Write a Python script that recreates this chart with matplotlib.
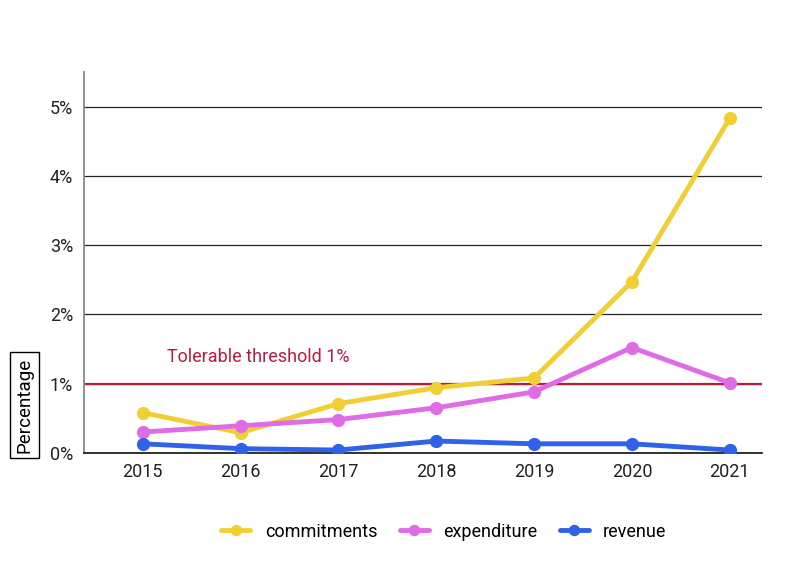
import matplotlib
matplotlib.use("Agg")
import matplotlib.pyplot as plt
from matplotlib.ticker import FuncFormatter

plt.rcParams['font.family'] = ['Roboto', 'DejaVu Sans']

years = ['2015', '2016', '2017', '2018', '2019', '2020', '2021']
commitments = [0.58, 0.29, 0.71, 0.94, 1.08, 2.47, 4.83]
expenditure = [0.30, 0.39, 0.48, 0.65, 0.88, 1.52, 1.01]
revenue = [0.13, 0.06, 0.04, 0.17, 0.13, 0.13, 0.04]
threshold = 1.0
yticks = [0, 1, 2, 3, 4, 5]

fig = plt.figure(figsize=(8, 5.71), dpi=100)
ax = fig.add_axes([0.105, 0.207, 0.8475, 0.667])

x = list(range(len(years)))
for vals, col, name in [(commitments, '#f0cf35', 'commitments'),
                        (expenditure, '#e06be6', 'expenditure'),
                        (revenue, '#2f62e6', 'revenue')]:
    ax.plot(x, vals, color=col, lw=3.5, marker='o', ms=8.5, label=name,
            solid_capstyle='round', zorder=3)

ax.axhline(threshold, color='#b51d3e', lw=1.6, zorder=2)
ax.text(0.25, threshold + 0.25, 'Tolerable threshold 1%', color='#b51d3e',
        fontsize=13, va='bottom', ha='left')

ax.set_xlim(-0.6, 6.33)
ax.set_ylim(0, 5.5)
ax.set_yticks(yticks)
ax.yaxis.set_major_formatter(FuncFormatter(lambda v, p: f'{int(v)}%'))
ax.set_xticks(x)
ax.set_xticklabels(years)
ax.grid(axis='y', color='#222222', lw=0.9, zorder=1)
ax.set_axisbelow(True)
for s in ['top', 'right']:
    ax.spines[s].set_visible(False)
ax.spines['left'].set_color('#888888')
ax.spines['left'].set_linewidth(1.3)
ax.spines['bottom'].set_color('#111111')
ax.spines['bottom'].set_linewidth(1.2)
ax.tick_params(axis='both', length=0, labelsize=13, colors='#222222', pad=7)
ax.tick_params(axis='y', pad=8)

fig.text(0.031, 0.207, 'Percentage', rotation=90, fontsize=13.5, ha='center', va='bottom',
         bbox=dict(boxstyle='square,pad=0.3', fc='white', ec='black', lw=1))

ax.legend(loc='center', bbox_to_anchor=(0.531, -0.207), ncol=3, frameon=False,
          fontsize=13, handlelength=1.6, columnspacing=1.25, handletextpad=0.8,
          markerscale=0.85)

fig.savefig('out.png', dpi=100)
